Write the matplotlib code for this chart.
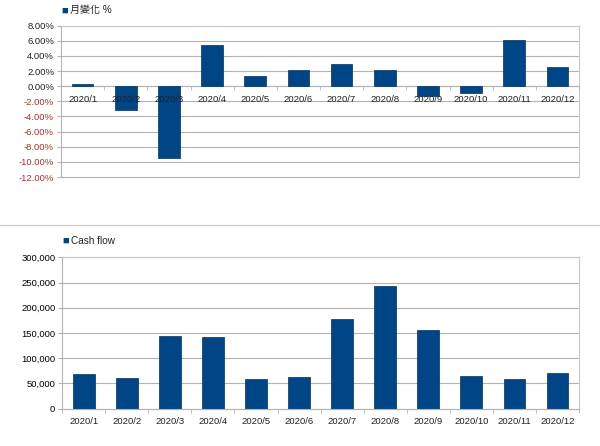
import numpy as np
import matplotlib.pyplot as plt
from matplotlib.ticker import FuncFormatter
from matplotlib.lines import Line2D

plt.rcParams['font.family'] = ['Liberation Sans', 'Noto Sans CJK TC', 'DejaVu Sans']

# data
months = ['2020/1', '2020/2', '2020/3', '2020/4', '2020/5', '2020/6',
          '2020/7', '2020/8', '2020/9', '2020/10', '2020/11', '2020/12']
monthly_change = [0.25, -3.1, -9.5, 5.4, 1.3, 2.2, 2.9, 2.15, -1.3, -0.9, 6.1, 2.55]
cash_flow = [68200, 60200, 144000, 141500, 58200, 63400,
             178300, 242500, 156000, 65400, 58800, 70700]

bar_color = '#004586'
grid_color = '#b3b3b3'
fs = 6.8

fig = plt.figure(figsize=(6.0, 4.46), dpi=100)
x = np.arange(len(months))


def style_axes(ax, yticks):
    ax.set_xlim(-0.5, len(months) - 0.5)
    # grid drawn by hand so the tick labels can sit above the bars
    for t in yticks:
        ax.axhline(t, color=grid_color, linewidth=0.8, zorder=0, clip_on=False)
    ax.set_axisbelow(False)
    for s in ['top', 'right']:
        ax.spines[s].set_color('#c8c8c8')
    ax.spines['left'].set_color(grid_color)
    ax.spines['bottom'].set_color(grid_color)
    ax.set_xticks(x)
    ax.set_xticklabels(months)
    ax.set_xticks(np.arange(-0.5, len(months)), minor=True)
    ax.tick_params(axis='x', which='major', length=0, pad=6, labelsize=fs, labelcolor='#222222')
    ax.tick_params(axis='x', which='minor', length=3, color=grid_color)
    ax.tick_params(axis='y', length=3, color=grid_color, labelsize=fs, pad=2)


# top chart: monthly change %
ax1 = fig.add_axes([0.1017, 0.6031, 0.8633, 0.3393])
ax1.bar(x, monthly_change, width=0.5, color=bar_color, edgecolor='#00305e', linewidth=0.5)
ax1.set_ylim(-12, 8)
ax1.spines['bottom'].set_position(('data', 0))
yt1 = np.arange(-12, 9, 2)
ax1.set_yticks(yt1)
ax1.yaxis.set_major_formatter(FuncFormatter(lambda v, p: f'{v:.2f}%'))
style_axes(ax1, yt1)
ax1.spines['bottom'].set_zorder(0.5)
for lbl, v in zip(ax1.get_yticklabels(), yt1):
    lbl.set_color('#a8322d' if v < 0 else '#222222')

# bottom chart: cash flow
ax2 = fig.add_axes([0.1038, 0.0836, 0.861, 0.3395])
ax2.bar(x, cash_flow, width=0.5, color=bar_color, edgecolor='#00305e', linewidth=0.5)
ax2.set_ylim(0, 300000)
yt2 = np.arange(0, 300001, 50000)
ax2.set_yticks(yt2)
ax2.yaxis.set_major_formatter(FuncFormatter(lambda v, p: f'{int(v):,}'))
style_axes(ax2, yt2)

# legends
fig.text(0.102, 0.977, '\u25a0', color=bar_color, fontsize=8, va='center')
fig.text(0.117, 0.977, '月變化 %', fontsize=fs + 0.4, va='center', color='#222222')
fig.text(0.104, 0.4595, '\u25a0', color=bar_color, fontsize=8, va='center')
fig.text(0.119, 0.4595, 'Cash flow', fontsize=fs + 0.4, va='center', color='#222222')

# separator line between the two charts
fig.add_artist(Line2D([0, 1], [1 - 225 / 446] * 2, color='#c8c8c8', linewidth=0.8))

fig.savefig('out.png', dpi=100)
